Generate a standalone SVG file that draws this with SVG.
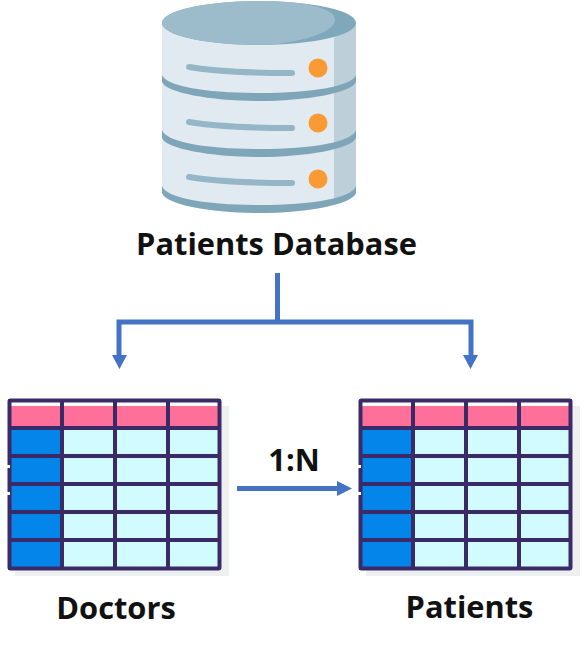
<svg xmlns="http://www.w3.org/2000/svg" width="588" height="652" viewBox="0 0 588 652">
<style>
.lbl{font-family:"Open Sans","Liberation Sans",sans-serif;font-weight:700;fill:#111;text-anchor:middle;font-size:30.800px}
.conn{fill:none;stroke:#4472c4;stroke-width:5}
.head{fill:#4472c4}
.grid{fill:none;stroke:#3a2a68;stroke-width:4}
.rack{fill:none;stroke:#94b6c6;stroke-width:6;stroke-linecap:round}
.band{fill:#7ea6b8}
.dot{fill:#f99a35}
</style>
<defs>
<g id="table">
<rect x="15" y="406" width="214" height="170" fill="#eeeff1"/>
<rect x="8" y="399" width="213" height="171" fill="#d2fbff"/>
<rect x="8" y="399" width="213" height="29" fill="#fe6f99"/>
<rect x="10" y="402" width="209" height="4" fill="#fff"/>
<rect x="8" y="428" width="54" height="142" fill="#0385ea"/>
<rect class="grid" x="9.500" y="400.500" width="210" height="168" rx="1"/>
<path class="grid" d="M62 400V569M115 400V569M168 400V569M9 428H220M9 456H220M9 484H220M9 512H220M9 540H220"/>
<path fill="#fff" d="M7 465H10V468H7ZM7 492H10V495H7Z"/>
</g>
</defs>
<rect width="588" height="652" fill="#fff"/>
<g id="database">
<path d="M162 23V188C162 204 205 213 259 213S356 204 356 188V23Z" fill="#e0eaf0"/>
<path d="M334 38V203Q347 198 356 188V23Z" fill="#bdd0da"/>
<path class="band" d="M162 75C166 86 205 93 259 93S352 86 356 75V82C352 93 305 101 259 101S166 93 162 82Z"/>
<path class="band" d="M162 130C166 142 205 149 259 149S352 142 356 130V138C352 149 305 157 259 157S166 149 162 138Z"/>
<path class="band" d="M162 186C166 198 205 205 259 205S352 198 356 186V193C352 205 305 213 259 213S166 205 162 193Z"/>
<ellipse cx="259" cy="23" rx="97" ry="22" fill="#7fa8bb"/>
<path d="M162 23C162 11 205 1 259 1C305 1 335 8 335 20C335 34 290 45 259 45C205 45 162 35 162 23Z" fill="#9cbccc"/>
<path class="rack" d="M189 67Q225 73 292 73"/>
<path class="rack" d="M189 122Q225 128 292 128"/>
<path class="rack" d="M189 177Q225 183 292 183"/>
<circle class="dot" cx="318" cy="68" r="9.500"/>
<circle class="dot" cx="318" cy="123" r="9.500"/>
<circle class="dot" cx="318" cy="179" r="9.500"/>
<text class="lbl" x="276.500" y="255">Patients Database</text>
</g>
<g id="doctors">
<use href="#table"/>
<text class="lbl" x="116" y="619">Doctors</text>
</g>
<g id="patients">
<use href="#table" x="351"/>
<text class="lbl" x="469.500" y="618">Patients</text>
</g>
<g id="connectors">
<path class="conn" d="M277.500 273V322M119 357V322H471V357"/>
<path class="head" d="M112 355H127L119.500 369ZM463 355H478L470.500 369Z"/>
<path class="conn" d="M237 488.500H339"/>
<path class="head" d="M337 481L352 488.500L337 496Z"/>
<text class="lbl" x="294" y="471">1:N</text>
</g>
</svg>
